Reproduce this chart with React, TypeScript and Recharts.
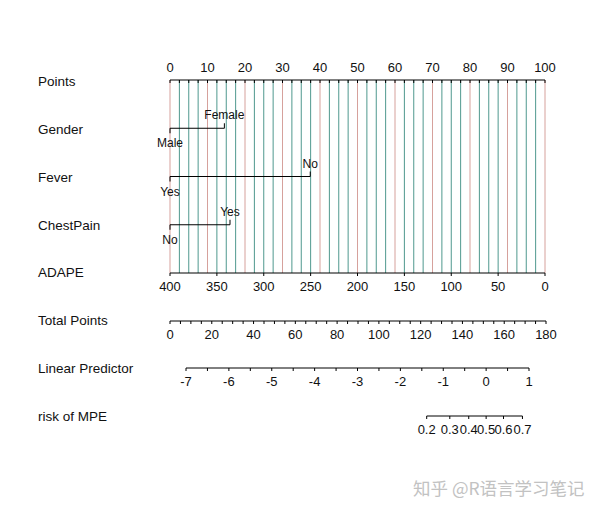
import React from "react";
import { ComposedChart, LineChart, Line, XAxis, YAxis, ReferenceLine } from "recharts";

// nomogram values
const pointTicks = [0, 10, 20, 30, 40, 50, 60, 70, 80, 90, 100];
const gridPoints = [
  0, 2.5, 5, 7.5, 10, 12.5, 15, 17.5, 20, 22.5, 25, 27.5, 30, 32.5, 35, 37.5, 40, 42.5, 45, 47.5, 50,
  52.5, 55, 57.5, 60, 62.5, 65, 67.5, 70, 72.5, 75, 77.5, 80, 82.5, 85, 87.5, 90, 92.5, 95, 97.5, 100,
];
const genderLevels = [
  { label: "Male", pts: 0 },
  { label: "Female", pts: 14.5 },
];
const feverLevels = [
  { label: "Yes", pts: 0 },
  { label: "No", pts: 37.4 },
];
const chestPainLevels = [
  { label: "No", pts: 0 },
  { label: "Yes", pts: 16 },
];
const adapeTicks = [400, 350, 300, 250, 200, 150, 100, 50, 0];
const totalMajor = [0, 20, 40, 60, 80, 100, 120, 140, 160, 180];
const totalTicks = [
  0, 5, 10, 15, 20, 25, 30, 35, 40, 45, 50, 55, 60, 65, 70, 75, 80, 85, 90, 95, 100, 105, 110, 115, 120,
  125, 130, 135, 140, 145, 150, 155, 160, 165, 170, 175, 180,
];
const lpMajor = [-7, -6, -5, -4, -3, -2, -1, 0, 1];
const lpTicks = [-7, -6.5, -6, -5.5, -5, -4.5, -4, -3.5, -3, -2.5, -2, -1.5, -1, -0.5, 0, 0.5, 1];
const riskTicks = [0.2, 0.3, 0.4, 0.5, 0.6, 0.7];

const rowLabels = ["Points", "Gender", "Fever", "ChestPain", "ADAPE", "Total Points", "Linear Predictor", "risk of MPE"];
const rowY = [80, 128.5, 176.5, 224.5, 273, 321, 367.7, 415.5];
const labelY = [83, 131, 179, 227, 274, 322, 370, 418];

const RED = "#d6a19c";
const TEAL = "#4f988e";
const INK = "#111";
const FONT = "'Liberation Sans', Arial, sans-serif";

// linear predictor axis layout, risk axis placed on it through the logit
const LP_LEFT = 186;
const LP_RIGHT = 529;
const lpPx = (v: number) => LP_LEFT + ((v - -7) / 8) * (LP_RIGHT - LP_LEFT);
const logit = (p: number) => Math.log(p / (1 - p));

const withRow = (levels: { label: string; pts: number }[], row: number) =>
  levels.map((l, i) => ({ ...l, row, side: i === 0 ? "below" : "above" }));

const renderLevel = (props: any) => {
  const { cx, cy, payload, index } = props;
  const up = payload.side === "above";
  return (
    <g key={`lvl-${index}`}>
      <line x1={cx} x2={cx} y1={cy} y2={up ? cy - 5 : cy + 5} stroke="#000" />
      <text
        x={cx}
        y={up ? cy - 13 : cy + 15}
        textAnchor="middle"
        dominantBaseline="central"
        fontSize={12}
        fill={INK}
        fontFamily={FONT}
      >
        {payload.label}
      </text>
    </g>
  );
};

const fmt = (major: number[]) => (v: number) => (major.includes(v) ? String(v) : "");

function AxisRow({
  top,
  left,
  right,
  domain,
  ticks,
  formatter,
  reversed = false,
}: {
  top: number;
  left: number;
  right: number;
  domain: [number, number];
  ticks: number[];
  formatter?: (v: number) => string;
  reversed?: boolean;
}) {
  return (
    <div style={{ position: "absolute", left: 0, top: top - 10 }}>
      <LineChart width={600} height={40} margin={{ top: 5, left, right, bottom: 0 }}>
        <XAxis
          type="number"
          dataKey="x"
          domain={domain}
          ticks={ticks}
          reversed={reversed}
          interval={0}
          allowDataOverflow
          height={30}
          tickSize={3}
          tickMargin={6}
          stroke="#000"
          tick={{ fill: INK, fontSize: 13 }}
          tickFormatter={formatter}
        />
        <YAxis hide width={0} domain={[0, 1]} />
      </LineChart>
    </div>
  );
}

export default function App() {
  const riskLeft = lpPx(logit(riskTicks[0]));
  const riskRight = 600 - lpPx(logit(riskTicks[riskTicks.length - 1]));

  return (
    <div
      style={{
        position: "absolute",
        left: 0,
        top: 0,
        width: 600,
        height: 513,
        background: "#fff",
        fontFamily: FONT,
        overflow: "hidden",
      }}
    >
      {rowLabels.map((t, i) => (
        <div
          key={t}
          style={{
            position: "absolute",
            left: 38,
            top: labelY[i] - 11,
            height: 20,
            lineHeight: "20px",
            fontSize: 13.5,
            color: INK,
            whiteSpace: "nowrap",
          }}
        >
          {t}
        </div>
      ))}

      <div style={{ position: "absolute", left: 0, top: 0 }}>
        <ComposedChart width={600} height={300} margin={{ top: 50, right: 55, left: 170, bottom: 27 }}>
          <XAxis
            xAxisId="pts"
            type="number"
            dataKey="pts"
            orientation="top"
            domain={[0, 100]}
            ticks={gridPoints}
            interval={0}
            height={30}
            tickSize={-3}
            tickMargin={11}
            stroke="#000"
            tick={{ fill: INK, fontSize: 13 }}
            tickFormatter={fmt(pointTicks)}
          />
          <YAxis hide width={0} type="number" domain={[0, 4]} reversed />
          {gridPoints.map((p) => (
            <ReferenceLine key={p} xAxisId="pts" x={p} stroke={p % 10 === 0 ? RED : TEAL} strokeWidth={1} />
          ))}
          {[withRow(genderLevels, 1), withRow(feverLevels, 2), withRow(chestPainLevels, 3)].map((d, i) => (
            <Line
              key={i}
              xAxisId="pts"
              data={d}
              dataKey="row"
              type="linear"
              stroke="#000"
              strokeWidth={1}
              dot={renderLevel}
              activeDot={false}
              isAnimationActive={false}
            />
          ))}
        </ComposedChart>
      </div>

      <AxisRow top={rowY[4]} left={170} right={55} domain={[0, 400]} ticks={adapeTicks} reversed />
      <AxisRow top={rowY[5]} left={170} right={54} domain={[0, 180]} ticks={totalTicks} formatter={fmt(totalMajor)} />
      <AxisRow top={rowY[6]} left={LP_LEFT} right={600 - LP_RIGHT} domain={[-7, 1]} ticks={lpTicks} formatter={fmt(lpMajor)} />
      <AxisRow
        top={rowY[7]}
        left={riskLeft}
        right={riskRight}
        domain={[logit(riskTicks[0]), logit(riskTicks[riskTicks.length - 1])]}
        ticks={riskTicks.map(logit)}
        formatter={(v: number) => String(Math.round((1 / (1 + Math.exp(-v))) * 10) / 10)}
      />

      <div
        style={{
          position: "absolute",
          left: 413,
          top: 477,
          fontSize: 17.5,
          lineHeight: "22px",
          color: "#c2c2c2",
          fontFamily: "'Noto Sans CJK SC', sans-serif",
          whiteSpace: "nowrap",
        }}
      >
        知乎 @R语言学习笔记
      </div>
    </div>
  );
}
